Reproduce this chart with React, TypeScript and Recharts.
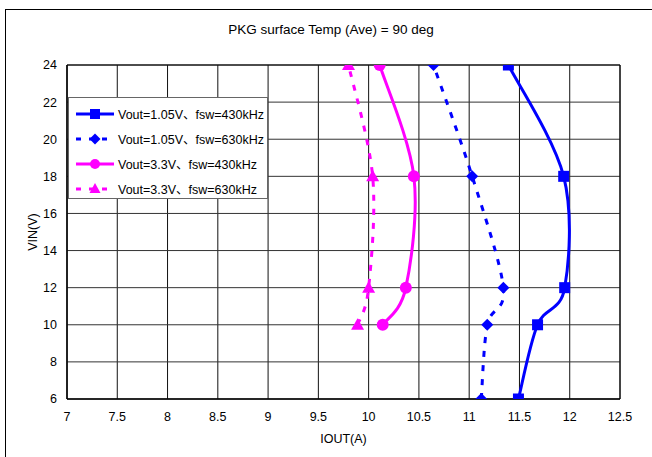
import React from "react"
import {
  ScatterChart,
  Scatter,
  XAxis,
  YAxis,
  CartesianGrid,
  ReferenceArea,
} from "recharts"

// IOUT (A) vs VIN (V)
const vin = [6, 10, 12, 18, 24]
const vinHigh = [10, 12, 18, 24]
const iout105v430 = [11.49, 11.68, 11.95, 11.94, 11.39]
const iout105v630 = [11.12, 11.18, 11.34, 11.03, 10.645]
const iout33v430 = [10.14, 10.37, 10.45, 10.11]
const iout33v630 = [9.89, 10.0, 10.04, 9.8]

const xTicks = [7, 7.5, 8, 8.5, 9, 9.5, 10, 10.5, 11, 11.5, 12, 12.5]
const yTicks = [6, 8, 10, 12, 14, 16, 18, 20, 22, 24]

const BLUE = "#0000ff"
const MAGENTA = "#ff00ff"
const FONT = "'Liberation Sans', 'Noto Sans CJK JP', sans-serif"

const toPoints = (ys: number[], xs: number[]) => ys.map((y, i) => ({ x: xs[i], y }))

// Excel-like smoothed line (Catmull-Rom through the points)
const smoothCurve = (context: any) => {
  let pts: number[][] = []
  return {
    areaStart() {},
    areaEnd() {},
    lineStart() {
      pts = []
    },
    point(x: number, y: number) {
      pts.push([+x, +y])
    },
    lineEnd() {
      if (!pts.length) return
      context.moveTo(pts[0][0], pts[0][1])
      for (let i = 0; i < pts.length - 1; i++) {
        const p0 = pts[Math.max(i - 1, 0)]
        const p1 = pts[i]
        const p2 = pts[i + 1]
        const p3 = pts[Math.min(i + 2, pts.length - 1)]
        context.bezierCurveTo(
          p1[0] + (p2[0] - p0[0]) / 6,
          p1[1] + (p2[1] - p0[1]) / 6,
          p2[0] - (p3[0] - p1[0]) / 6,
          p2[1] - (p3[1] - p1[1]) / 6,
          p2[0],
          p2[1]
        )
      }
    },
  }
}

const Square = ({ cx, cy }: any) => <rect x={cx - 5.5} y={cy - 5.5} width={11} height={11} fill={BLUE} />
const Diamond = ({ cx, cy }: any) => (
  <polygon points={`${cx},${cy - 6} ${cx + 6},${cy} ${cx},${cy + 6} ${cx - 6},${cy}`} fill={BLUE} />
)
const Dot = ({ cx, cy }: any) => <circle cx={cx} cy={cy} r={6} fill={MAGENTA} />
const Tri = ({ cx, cy }: any) => (
  <polygon points={`${cx},${cy - 6.5} ${cx + 6.5},${cy + 5} ${cx - 6.5},${cy + 5}`} fill={MAGENTA} />
)

const legendItems = [
  { label: "Vout=1.05V、fsw=430kHz", color: BLUE, dash: false, marker: "square" },
  { label: "Vout=1.05V、fsw=630kHz", color: BLUE, dash: true, marker: "diamond" },
  { label: "Vout=3.3V、fsw=430kHz", color: MAGENTA, dash: false, marker: "circle" },
  { label: "Vout=3.3V、fsw=630kHz", color: MAGENTA, dash: true, marker: "triangle" },
]

function LegendMarker({ color, dash, marker }: any) {
  const cx = 19
  const cy = 7
  let m
  if (marker === "square") m = <rect x={cx - 5} y={cy - 5} width={10} height={10} fill={color} />
  else if (marker === "diamond")
    m = <polygon points={`${cx},${cy - 5.5} ${cx + 5.5},${cy} ${cx},${cy + 5.5} ${cx - 5.5},${cy}`} fill={color} />
  else if (marker === "circle") m = <circle cx={cx} cy={cy} r={5} fill={color} />
  else m = <polygon points={`${cx},${cy - 6} ${cx + 5.5},${cy + 4} ${cx - 5.5},${cy + 4}`} fill={color} />
  return (
    <svg width={38} height={14} style={{ display: "block" }}>
      <line x1={0} y1={cy} x2={38} y2={cy} stroke={color} strokeWidth={3} strokeDasharray={dash ? "5 8" : undefined} />
      {m}
    </svg>
  )
}

export default function App() {
  return (
    <div style={{ position: "absolute", left: 0, top: 0, width: 652, height: 457, background: "#fff", overflow: "hidden", fontFamily: FONT }}>
      <div style={{ position: "absolute", left: 5, top: 9, width: 700, height: 500, border: "1px solid #000" }} />
      <div style={{ position: "absolute", left: 0, top: 22, width: 652, textAlign: "center", fontSize: 13.5, color: "#000", paddingLeft: 10, boxSizing: "border-box" }}>
        PKG surface Temp (Ave) = 90 deg
      </div>
      <div style={{ position: "absolute", left: 0, top: 0 }}>
        <ScatterChart width={652} height={457} margin={{ top: 65, right: 32, bottom: 0, left: 0 }}>
          <CartesianGrid horizontal={false} stroke="#111" strokeOpacity={1} />
          <CartesianGrid vertical={false} stroke="#333" strokeOpacity={1} />
          <XAxis
            type="number"
            dataKey="x"
            domain={[7, 12.5]}
            ticks={xTicks}
            allowDataOverflow
            height={58}
            tickSize={0}
            tickMargin={13}
            axisLine={{ stroke: "#000" }}
            tick={{ fill: "#000", fontSize: 12.5, fontFamily: FONT }}
            label={{ value: "IOUT(A)", position: "insideBottom", offset: 14, fill: "#000", fontSize: 12.5, fontFamily: FONT }}
          />
          <YAxis
            type="number"
            dataKey="y"
            domain={[6, 24]}
            ticks={yTicks}
            allowDataOverflow
            width={67}
            tickSize={0}
            tickMargin={10}
            axisLine={{ stroke: "#000" }}
            tick={{ fill: "#000", fontSize: 12.5, fontFamily: FONT }}
            label={{ value: "VIN(V)", angle: -90, position: "insideLeft", offset: 33, fill: "#000", fontSize: 12.5, fontFamily: FONT, style: { textAnchor: "middle" } }}
          />
          <ReferenceArea x1={7} x2={12.5} y1={6} y2={24} fill="none" stroke="#000" strokeWidth={1} />
          <Scatter
            data={toPoints(vin, iout105v430)}
            line={{ stroke: BLUE, strokeWidth: 3 }}
            lineJointType={smoothCurve as any}
            shape={Square}
            isAnimationActive={false}
          />
          <Scatter
            data={toPoints(vin, iout105v630)}
            line={{ stroke: BLUE, strokeWidth: 3, strokeDasharray: "6 8" }}
            lineJointType={smoothCurve as any}
            shape={Diamond}
            isAnimationActive={false}
          />
          <Scatter
            data={toPoints(vinHigh, iout33v430)}
            line={{ stroke: MAGENTA, strokeWidth: 3 }}
            lineJointType={smoothCurve as any}
            shape={Dot}
            isAnimationActive={false}
          />
          <Scatter
            data={toPoints(vinHigh, iout33v630)}
            line={{ stroke: MAGENTA, strokeWidth: 3, strokeDasharray: "6 8" }}
            lineJointType={smoothCurve as any}
            shape={Tri}
            isAnimationActive={false}
          />
        </ScatterChart>
      </div>
      <div
        style={{
          position: "absolute",
          left: 68,
          top: 97,
          width: 200,
          height: 102,
          background: "#fff",
          border: "1px solid #666",
          boxSizing: "border-box",
          padding: "3px 0 0 7px",
        }}
      >
        {legendItems.map((it) => (
          <div key={it.label} style={{ display: "flex", alignItems: "center", height: 25, fontSize: 12.5, color: "#000", whiteSpace: "nowrap" }}>
            <LegendMarker color={it.color} dash={it.dash} marker={it.marker} />
            <span style={{ marginLeft: 4 }}>{it.label}</span>
          </div>
        ))}
      </div>
    </div>
  )
}
